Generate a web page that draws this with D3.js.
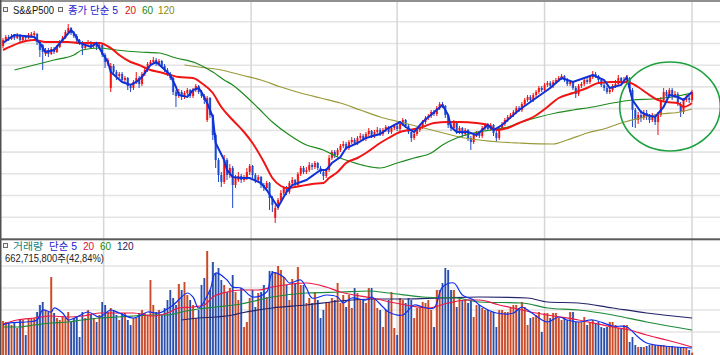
<!DOCTYPE html>
<html><head><meta charset="utf-8">
<script src="https://cdn.jsdelivr.net/npm/d3@7"></script>
<style>
body{margin:0;background:#fff;}
svg{display:block;}
text{font-family:"Liberation Sans","Noto Sans CJK KR",sans-serif;}
</style>
</head><body>
<svg id="c" width="720" height="355"></svg>
<script>
// ---------- DATA ----------
const opens=[
3170,3195,3215,3205,3220,3210,3225,3200,3215,3210,
3215,3225,3230,3190,3175,3130,3150,3130,3155,3140,
3165,3190,3210,3240,3260,3235,3220,3200,3185,3160,
3180,3190,3170,3180,3165,3175,3125,3080,2960,3070,
3040,3020,3030,3000,3010,2970,2960,2990,3010,2980,
3030,3050,3080,3090,3100,3080,3095,3070,3050,3030,
3010,2940,2920,2940,2915,2935,2950,2920,2950,2970,
2940,2920,2800,2910,2825,2725,2600,2525,2490,2600,
2525,2560,2475,2500,2520,2500,2510,2540,2570,2525,
2500,2515,2475,2460,2485,2410,2310,2360,2400,2435,
2460,2440,2485,2500,2475,2530,2560,2540,2550,2575,
2565,2585,2560,2540,2520,2550,2610,2640,2625,2650,
2670,2680,2660,2690,2700,2685,2710,2720,2705,2730,
2745,2720,2740,2750,2730,2750,2765,2740,2760,2770,
2755,2780,2800,2770,2740,2710,2730,2750,2765,2790,
2810,2820,2840,2830,2860,2880,2870,2825,2775,2760,
2790,2740,2760,2730,2750,2710,2690,2725,2735,2720,
2760,2775,2755,2775,2735,2710,2760,2780,2800,2815,
2825,2840,2860,2850,2880,2900,2915,2900,2925,2940,
2960,2950,2975,2985,2970,2990,3000,3010,3020,3000,
2980,2990,2960,2930,2970,2980,3000,2990,3015,3030,
3020,3000,2975,2960,2940,2950,2970,2980,3010,2990,
3000,3010,2950,2850,2800,2825,2810,2835,2820,2800,
2820,2790,2825,2900,2940,2920,2950,2920,2930,2880,
2840,2900,2910,2900];
const closes=[
3200,3215,3205,3220,3210,3225,3200,3215,3210,3225,
3230,3235,3190,3150,3140,3150,3130,3155,3140,3165,
3190,3210,3240,3260,3235,3220,3200,3185,3160,3180,
3190,3170,3180,3165,3175,3125,3090,3100,3070,3040,
3020,3030,3000,3010,2970,2960,2990,3010,2980,3030,
3050,3080,3090,3100,3080,3095,3070,3050,3030,3010,
2940,2920,2940,2915,2935,2950,2920,2950,2970,2940,
2920,2900,2910,2825,2725,2600,2525,2490,2600,2525,
2560,2475,2510,2520,2500,2510,2540,2570,2525,2500,
2515,2475,2460,2485,2410,2375,2360,2400,2435,2460,
2440,2485,2500,2475,2530,2560,2540,2550,2575,2565,
2585,2560,2540,2520,2550,2610,2640,2625,2650,2670,
2680,2660,2690,2700,2685,2710,2720,2705,2730,2745,
2720,2740,2750,2730,2750,2765,2740,2760,2770,2755,
2780,2800,2770,2740,2710,2730,2750,2765,2790,2810,
2820,2840,2830,2860,2880,2870,2825,2775,2760,2790,
2740,2760,2730,2750,2710,2690,2725,2735,2720,2760,
2775,2755,2775,2735,2710,2760,2780,2800,2815,2825,
2840,2860,2850,2880,2900,2915,2900,2925,2940,2960,
2950,2975,2985,2970,2990,3000,3010,3020,3000,2980,
2990,2960,2930,2970,2980,3000,2990,3015,3030,3020,
3000,2975,2960,2940,2950,2970,2980,3010,2990,3000,
3010,2960,2850,2800,2825,2810,2835,2820,2800,2820,
2790,2825,2900,2940,2920,2950,2920,2930,2880,2840,
2900,2910,2900,2940];
const highs=[
3210,3225,3225,3230,3230,3235,3230,3225,3225,3235,
3240,3245,3235,3195,3180,3160,3160,3165,3165,3175,
3200,3220,3250,3280,3265,3245,3230,3205,3195,3190,
3200,3195,3190,3185,3185,3180,3135,3110,3085,3080,
3050,3040,3040,3020,3015,2980,3000,3040,3020,3040,
3060,3090,3100,3115,3110,3105,3100,3080,3060,3040,
3015,2950,2955,2950,2945,2960,2955,2960,2980,2975,
2950,2930,2920,2915,2830,2735,2610,2540,2625,2610,
2580,2570,2525,2540,2530,2525,2560,2580,2575,2535,
2525,2520,2485,2495,2490,2420,2375,2410,2450,2470,
2470,2495,2515,2505,2540,2570,2570,2565,2590,2585,
2595,2590,2570,2550,2560,2625,2650,2650,2660,2680,
2695,2690,2700,2715,2710,2720,2735,2730,2740,2760,
2750,2750,2765,2760,2760,2775,2770,2770,2780,2780,
2790,2810,2805,2780,2750,2740,2760,2775,2800,2820,
2830,2850,2850,2870,2890,2890,2875,2830,2785,2800,
2795,2770,2765,2760,2755,2720,2735,2745,2745,2770,
2785,2785,2785,2780,2745,2770,2790,2810,2825,2835,
2850,2870,2870,2890,2910,2925,2925,2935,2950,2970,
2970,2985,2995,2995,3000,3010,3020,3030,3025,3010,
3000,2995,2970,2980,2990,3010,3010,3025,3045,3040,
3025,3010,2985,2970,2965,2980,3000,3025,3015,3015,
3025,3015,2960,2860,2840,2850,2850,2850,2830,2835,
2830,2840,2915,2960,2950,2960,2960,2945,2940,2890,
2910,2925,2920,2950];
const lows=[
3160,3190,3195,3200,3200,3205,3190,3195,3200,3205,
3210,3220,3175,3115,3050,3120,3115,3125,3130,3135,
3160,3185,3205,3235,3225,3210,3190,3175,3125,3150,
3170,3160,3160,3150,3155,3115,3060,3070,2940,3025,
3000,3010,2990,2990,2950,2940,2950,2980,2960,2970,
3020,3040,3070,3080,3070,3070,3060,3040,3020,3000,
2925,2865,2910,2900,2905,2925,2910,2910,2940,2930,
2910,2880,2790,2810,2700,2560,2490,2465,2480,2500,
2510,2360,2460,2490,2485,2490,2500,2525,2510,2485,
2490,2460,2445,2450,2350,2340,2285,2350,2390,2425,
2425,2430,2475,2460,2465,2520,2530,2530,2540,2550,
2555,2550,2530,2500,2510,2540,2600,2610,2615,2640,
2660,2650,2650,2680,2675,2675,2700,2695,2695,2720,
2710,2710,2730,2720,2720,2740,2730,2730,2750,2745,
2745,2770,2760,2730,2690,2700,2720,2740,2755,2780,
2800,2810,2820,2820,2850,2860,2810,2760,2745,2750,
2730,2730,2715,2720,2695,2650,2680,2715,2710,2710,
2750,2745,2745,2720,2690,2700,2750,2770,2790,2805,
2815,2830,2840,2840,2870,2890,2890,2890,2915,2930,
2940,2940,2965,2960,2960,2980,2990,3000,2990,2970,
2970,2950,2910,2920,2960,2970,2980,2980,3005,3010,
2990,2965,2945,2930,2930,2940,2960,2970,2980,2980,
2990,2940,2765,2760,2780,2790,2800,2800,2785,2790,
2775,2725,2815,2890,2910,2910,2900,2910,2870,2815,
2830,2890,2885,2890];
// volume, millions of shares
const volumes=[
3200,3120,3040,2880,3120,2640,3360,3280,2080,3360,
3440,3440,3920,4480,4720,4080,3920,6720,3840,3440,
3280,3600,3440,3920,3120,3440,3600,1920,3920,3440,
4080,3760,3440,3120,3680,4720,4480,3920,4240,4080,
3680,3280,3840,3840,3280,2880,3440,3440,3840,4080,
3840,3680,6480,4480,3920,4080,3680,4240,4880,5680,
5040,4480,6160,5680,6320,5280,4880,4480,3440,4080,
6080,6640,8800,5680,7920,7040,7440,6480,6080,5520,
5840,6880,5520,4880,5840,2720,3120,5040,5680,4320,
5440,5520,6080,5120,7200,7200,7120,7600,7280,6720,
6080,4880,6560,6240,7520,6080,6080,4640,5040,4640,
5520,4880,3440,4080,4720,4720,5040,4880,6240,4640,
5280,4320,5280,4240,5840,5440,4880,4880,4640,5840,
5840,5040,4240,4080,2720,4080,4880,5520,2640,2080,
5040,4880,4640,5040,4880,3440,4240,4240,4720,4640,
4880,4080,2720,5680,5680,6240,7440,7280,5680,5680,
4320,5120,4880,4880,4640,4880,3520,4480,4480,4240,
4080,4080,3920,3920,2720,4080,4080,3920,3920,4320,
4480,4480,4240,4720,4320,2880,3440,3520,3680,3920,
2320,3840,3840,3440,3840,3840,3440,3280,3520,3280,
3920,3920,3120,3120,3120,3520,2880,3120,3280,3040,
3120,2720,2640,2720,3120,3120,2880,2640,2640,2880,
2880,1520,1920,1280,1120,1120,1120,1200,1280,1280,
1280,1200,1280,1280,1200,1200,1200,1120,1120,1120,
1120,1040,880,663];
// moving averages: [candle index, value]
const ma5=[[0,3185],[4,3225],[11,3215],[13,3185],[15,3140],[18,3150],[21,3200],[24,3250],[25,3235],[27,3185],[31,3165],[33,3185],[35,3135],[37,3090],[38,3040],[40,3015],[42,2990],[45,2975],[47,2990],[49,3015],[52,3075],[54,3090],[56,3065],[59,3025],[61,2965],[62,2925],[65,2915],[67,2950],[69,2960],[70,2940],[72,2885],[74,2815],[75,2685],[78,2600],[79,2550],[81,2515],[84,2510],[87,2510],[91,2485],[93,2450],[96,2385],[97,2365],[98,2390],[100,2440],[102,2475],[107,2500],[112,2550],[114,2550],[116,2585],[119,2615],[121,2660],[125,2685],[128,2710],[133,2730],[136,2760],[140,2790],[142,2765],[145,2740],[148,2790],[155,2875],[157,2825],[158,2765],[160,2740],[164,2740],[167,2725],[171,2775],[173,2750],[176,2775],[182,2850],[187,2900],[193,2960],[197,3010],[201,2990],[205,3010],[208,3025],[212,3000],[214,2960],[218,2975],[220,3015],[222,2900],[225,2840],[227,2825],[230,2815],[233,2865],[235,2925],[238,2915],[240,2900],[243,2940]];
const ma20=[[0,3150],[11,3200],[15,3190],[23,3190],[27,3185],[34,3185],[38,3160],[41,3125],[45,3090],[48,3075],[52,3050],[55,3040],[59,3025],[62,3015],[67,3010],[70,2985],[74,2935],[77,2865],[81,2800],[85,2740],[88,2685],[92,2590],[95,2510],[98,2470],[100,2460],[105,2470],[109,2480],[113,2485],[115,2510],[118,2540],[121,2585],[125,2610],[128,2635],[133,2685],[136,2710],[140,2740],[143,2750],[147,2760],[152,2785],[157,2790],[161,2790],[167,2785],[171,2775],[174,2750],[178,2760],[182,2785],[187,2815],[192,2865],[196,2910],[201,2935],[206,2960],[210,2985],[215,2990],[220,2990],[224,2965],[227,2935],[231,2900],[234,2890],[238,2885],[240,2865],[242,2875],[243,2885]];
const ma60=[[4,3050],[11,3075],[18,3100],[25,3125],[28,3150],[34,3160],[40,3150],[48,3140],[55,3135],[61,3110],[68,3085],[74,3040],[78,3000],[81,2975],[84,2940],[90,2860],[95,2790],[101,2725],[107,2675],[113,2650],[118,2615],[123,2590],[128,2570],[133,2560],[139,2585],[145,2610],[151,2635],[155,2675],[160,2710],[166,2735],[172,2750],[178,2765],[183,2790],[189,2815],[195,2835],[201,2850],[208,2865],[215,2885],[222,2900],[229,2905],[236,2915],[243,2935]];
const ma120=[[64,3075],[69,3065],[77,3050],[84,3025],[91,3000],[98,2965],[105,2935],[112,2910],[119,2885],[126,2850],[133,2815],[140,2790],[147,2765],[154,2740],[161,2715],[168,2700],[175,2690],[182,2685],[194,2680],[199,2700],[206,2735],[213,2760],[218,2785],[225,2810],[232,2830],[239,2840],[243,2855]];
const vma5=[[0,2880],[2,3040],[8,3120],[12,3280],[14,4080],[17,3920],[18,4240],[21,3840],[23,3280],[26,3520],[30,3920],[34,3520],[38,4080],[41,3840],[46,3440],[51,3920],[55,3840],[60,4480],[65,5440],[67,5120],[69,4240],[73,5680],[75,7040],[79,6480],[81,5920],[84,5840],[88,5120],[93,5520],[95,7040],[99,6720],[101,6240],[105,6480],[107,5840],[109,5040],[114,5280],[118,5120],[120,4640],[123,5040],[128,4880],[130,5120],[134,4320],[136,3920],[141,3680],[145,4480],[148,4320],[152,4240],[155,5920],[159,6240],[162,5280],[166,4880],[168,4480],[174,3840],[180,3840],[183,4320],[186,3920],[192,3120],[196,3520],[199,3280],[203,3120],[208,3280],[215,2800],[220,2720],[224,1920],[227,1440],[233,1200],[243,1040]];
const vma20=[[0,2960],[5,3280],[11,3440],[17,3600],[23,3520],[28,3600],[34,3840],[40,3840],[46,3840],[53,3600],[58,3840],[62,4240],[67,4320],[71,4480],[74,5120],[79,5520],[84,5680],[90,5680],[95,5920],[107,6240],[114,5920],[119,5520],[130,5040],[142,4480],[150,4240],[157,4640],[164,4880],[168,4880],[175,4480],[180,4240],[186,3920],[192,3680],[203,3280],[215,2720],[221,2480],[227,2080],[234,1680],[243,1120]];
const vma60=[[0,2720],[5,2720],[11,2880],[17,3040],[23,3120],[28,3280],[34,3440],[40,3520],[46,3600],[52,3680],[58,3680],[63,3920],[69,4160],[75,4320],[84,4560],[95,5120],[107,5440],[119,5520],[129,5600],[136,5440],[148,5120],[160,5040],[168,4720],[183,4640],[192,4240],[203,4080],[215,3680],[227,3120],[243,2480]];
const vma120=[[63,3280],[69,3440],[75,3520],[81,3680],[84,3840],[95,4240],[107,4480],[119,4800],[130,4960],[142,4960],[154,5040],[168,5120],[185,5040],[192,4720],[203,4640],[215,4240],[227,3840],[243,3440]];
// vertical grid positions (candle index)
const gridIdx=[35.5,87.5,139,191,243];
// legend texts
const priceTitle="S&&P500";
const priceLegend=["종가 단순 5","20","60","120"];
const volLegend=["거래량","단순 5","20","60","120"];
const volInfo="662,715,800주(42,84%)";
// highlighted zone (ellipse) in data terms
const zone={i0:217.5,i1:253,p0:3090,p1:2645};

// ---------- DRAW ----------
const svg=d3.select("#c");
const N=closes.length;
const x=d3.scaleLinear().domain([0,N-1]).range([3,692]);
const yP=d3.scaleLinear().domain([2205,3400]).range([239,0]);
const yV=d3.scaleLinear().domain([0,9000]).range([361,248.5]);

const defs=svg.append("defs");
function grad(id,edge,mid){
  const g=defs.append("linearGradient").attr("id",id).attr("x1","0%").attr("x2","100%");
  g.append("stop").attr("offset","0%").attr("stop-color",edge);
  g.append("stop").attr("offset","40%").attr("stop-color",mid);
  g.append("stop").attr("offset","70%").attr("stop-color",mid);
  g.append("stop").attr("offset","100%").attr("stop-color",edge);
}
grad("gUp","#ff9c9c","#f01010");
grad("gDn","#8fb0ee","#1f48c8");
grad("vUp","#e8a488","#c9482a");
grad("vDn","#9cb4e6","#2a4ea6");
defs.append("clipPath").attr("id","cpP").append("rect").attr("x",0).attr("y",0).attr("width",720).attr("height",238);
defs.append("clipPath").attr("id","cpV").append("rect").attr("x",0).attr("y",241).attr("width",720).attr("height",114);

svg.append("rect").attr("width",720).attr("height",355).attr("fill","#fff");

// grids
const grid=svg.append("g");
d3.range(1,11).forEach(k=>{
  grid.append("line").attr("x1",0).attr("x2",720).attr("y1",239*k/11).attr("y2",239*k/11)
   .attr("stroke","#e4e4e4").attr("stroke-width",1.6);
});
d3.range(1,5).forEach(k=>{
  grid.append("line").attr("x1",0).attr("x2",720).attr("y1",244+22*k).attr("y2",244+22*k)
   .attr("stroke","#e4e4e4").attr("stroke-width",1.6);
});
gridIdx.forEach(i=>{
  grid.append("line").attr("x1",x(i)).attr("x2",x(i)).attr("y1",2).attr("y2",355)
   .attr("stroke","#d6d6d6").attr("stroke-width",1.5);
});

// price panel
const gp=svg.append("g").attr("clip-path","url(#cpP)");
const data=closes.map((c,i)=>({i,o:opens[i],h:highs[i],l:lows[i],c,v:volumes[i],up:c>=opens[i]}));
gp.selectAll("line.w").data(data).enter().append("line")
  .attr("x1",d=>x(d.i)).attr("x2",d=>x(d.i))
  .attr("y1",d=>yP(d.h)).attr("y2",d=>yP(d.l))
  .attr("stroke",d=>d.up?"#f01010":"#1f48c8").attr("stroke-width",1);
gp.selectAll("rect.b").data(data).enter().append("rect")
  .attr("x",d=>x(d.i)-1.3).attr("width",2.6)
  .attr("y",d=>yP(Math.max(d.o,d.c)))
  .attr("height",d=>Math.max(1,Math.abs(yP(d.o)-yP(d.c))))
  .attr("fill",d=>d.up?"url(#gUp)":"url(#gDn)");

const line=d3.line().x(d=>x(d[0])).y(d=>yP(d[1]));
const sline=d3.line().x(d=>x(d[0])).y(d=>yP(d[1])).curve(d3.curveMonotoneX);
gp.append("path").attr("d",sline(ma120)).attr("fill","none").attr("stroke","#9a9a3a").attr("stroke-width",1.2);
gp.append("path").attr("d",sline(ma60)).attr("fill","none").attr("stroke","#1c8a1c").attr("stroke-width",1.2);
gp.append("path").attr("d",sline(ma20)).attr("fill","none").attr("stroke","#f01414").attr("stroke-width",2);
gp.append("path").attr("d",line(ma5)).attr("fill","none").attr("stroke","#1030d8").attr("stroke-width",2);

// highlighted zone
svg.append("ellipse")
  .attr("cx",(x(zone.i0)+x(zone.i1))/2).attr("cy",(yP(zone.p0)+yP(zone.p1))/2)
  .attr("rx",(x(zone.i1)-x(zone.i0))/2).attr("ry",(yP(zone.p1)-yP(zone.p0))/2)
  .attr("fill","none").attr("stroke","#1ea040").attr("stroke-width",1.6);

// volume panel
const gv=svg.append("g").attr("clip-path","url(#cpV)");
gv.selectAll("rect.v").data(data).enter().append("rect")
  .attr("x",d=>x(d.i)-1.2).attr("width",2.4)
  .attr("y",d=>yV(d.v)).attr("height",d=>yV(0)-yV(d.v))
  .attr("fill",d=>d.up?"url(#vUp)":"url(#vDn)");
const vline=d3.line().x(d=>x(d[0])).y(d=>yV(d[1])).curve(d3.curveMonotoneX);
const vline5=d3.line().x(d=>x(d[0])).y(d=>yV(d[1])).curve(d3.curveCatmullRom);
gv.append("path").attr("d",vline(vma120)).attr("fill","none").attr("stroke","#24246a").attr("stroke-width",1.2);
gv.append("path").attr("d",vline(vma60)).attr("fill","none").attr("stroke","#1c8a3a").attr("stroke-width",1.2);
gv.append("path").attr("d",vline(vma20)).attr("fill","none").attr("stroke","#ec1848").attr("stroke-width",1.2);
gv.append("path").attr("d",vline5(vma5)).attr("fill","none").attr("stroke","#1030f0").attr("stroke-width",1.2);

// frame
svg.append("rect").attr("x",0).attr("y",0).attr("width",720).attr("height",2).attr("fill","#909090");
svg.append("rect").attr("x",0).attr("y",0).attr("width",1.5).attr("height",355).attr("fill","#505050");
svg.append("rect").attr("x",0).attr("y",238.3).attr("width",720).attr("height",2).attr("fill","#5a5a5a");

// legends
function box(x0,y0){
  svg.append("rect").attr("x",x0+0.5).attr("y",y0+0.5).attr("width",4).attr("height",4)
    .attr("fill","#f2f2f2").attr("stroke","#6a6a6a").attr("stroke-width",1);
}
function label(t,x0,y0,col,len){
  const s=svg.append("text").attr("x",x0).attr("y",y0).attr("font-size",10).attr("fill",col).text(t);
  if(len) s.attr("textLength",len).attr("lengthAdjust","spacingAndGlyphs");
}
box(3,7);
label(priceTitle,13,13.5,"#111",41);
box(58,7);
const pCols=["#1a1ad0","#e01010","#128a12","#8a8a10"];
const pX=[68,125,142,158];
const pLen=[50,0,0,0];
priceLegend.forEach((t,k)=>label(t,pX[k],13.5,pCols[k],pLen[k]));
box(3,243);
const vCols=["#108080","#1a1ad0","#e01040","#128a12","#1a1a60"];
const vX=[13,49,83,100,117];
const vLen=[30,28,0,0,0];
volLegend.forEach((t,k)=>label(t,vX[k],250,vCols[k],vLen[k]));
label(volInfo,5,261.5,"#222",99);
</script>
</body></html>
